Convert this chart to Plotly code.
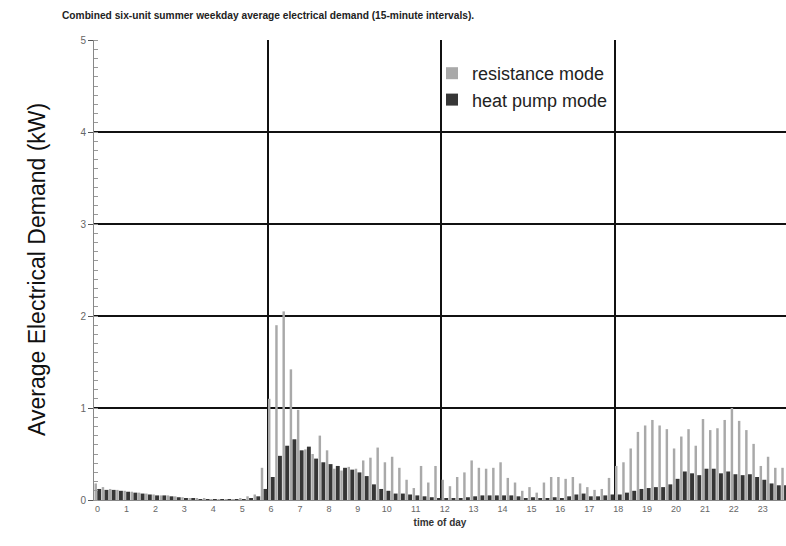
import plotly.graph_objects as go

# 15-minute interval start times (hours) - 96 intervals
interval_hours = [i / 4 for i in range(96)]
hour_ticks = list(range(24))
hour_labels = [str(h) for h in hour_ticks]

resistance_mode = [
    0.18, 0.14, 0.12, 0.11, 0.10, 0.09, 0.08, 0.07,
    0.06, 0.05, 0.05, 0.04, 0.03, 0.02, 0.02, 0.02,
    0.01, 0.01, 0.01, 0.01, 0.02, 0.04, 0.06, 0.35,
    1.10, 1.90, 2.05, 1.42, 0.98, 0.55, 0.50, 0.70,
    0.54, 0.34, 0.32, 0.36, 0.34, 0.43, 0.46, 0.57,
    0.41, 0.47, 0.35, 0.22, 0.13, 0.37, 0.19, 0.37,
    0.22, 0.15, 0.25, 0.30, 0.43, 0.35, 0.34, 0.35,
    0.41, 0.24, 0.19, 0.10, 0.14, 0.08, 0.19, 0.25,
    0.25, 0.23, 0.25, 0.18, 0.14, 0.11, 0.12, 0.24,
    0.37, 0.41, 0.56, 0.74, 0.81, 0.87, 0.81, 0.77,
    0.56, 0.69, 0.77, 0.59, 0.88, 0.76, 0.78, 0.87,
    1.00, 0.86, 0.76, 0.61, 0.37, 0.47, 0.35, 0.35,
]

heat_pump_mode = [
    0.12, 0.11, 0.11, 0.10, 0.09, 0.08, 0.07, 0.06,
    0.05, 0.05, 0.04, 0.03, 0.02, 0.02, 0.01, 0.01,
    0.01, 0.01, 0.01, 0.01, 0.01, 0.02, 0.04, 0.12,
    0.25, 0.48, 0.59, 0.66, 0.54, 0.58, 0.45, 0.41,
    0.39, 0.37, 0.35, 0.33, 0.30, 0.26, 0.17, 0.12,
    0.10, 0.07, 0.07, 0.06, 0.05, 0.04, 0.03, 0.02,
    0.02, 0.02, 0.02, 0.03, 0.04, 0.05, 0.05, 0.05,
    0.05, 0.05, 0.04, 0.02, 0.03, 0.02, 0.02, 0.03,
    0.02, 0.04, 0.06, 0.07, 0.04, 0.04, 0.05, 0.06,
    0.06, 0.08, 0.10, 0.12, 0.13, 0.14, 0.14, 0.17,
    0.23, 0.31, 0.29, 0.27, 0.34, 0.34, 0.29, 0.31,
    0.28, 0.27, 0.28, 0.25, 0.22, 0.18, 0.16, 0.16,
]

x_centers = [h + 0.125 for h in interval_hours]
x_range = [0, 23.93]

fig = go.Figure()
fig.add_trace(go.Bar(
    x=x_centers, y=resistance_mode, name="resistance mode",
    width=0.085, offset=-0.108,
    marker=dict(color="#a9a9a9", line=dict(width=0)),
))
fig.add_trace(go.Bar(
    x=x_centers, y=heat_pump_mode, name="heat pump mode",
    width=0.135, offset=-0.012,
    marker=dict(color="#363636", line=dict(width=0)),
))
# invisible trace on overlay axis to carry hour gridlines
fig.add_trace(go.Scatter(x=[0, 24], y=[0, 0], xaxis="x2", mode="lines",
                         line=dict(width=0), showlegend=False, hoverinfo="skip"))

fig.update_layout(
    width=786, height=546,
    margin=dict(l=94, r=0, t=40, b=46),
    paper_bgcolor="white", plot_bgcolor="white",
    barmode="overlay",
    font=dict(family="Liberation Sans, Arial, sans-serif", color="#222"),
    title=dict(
        text="<b>Combined six-unit summer weekday average electrical demand (15-minute intervals).</b>",
        x=62 / 786, xanchor="left", y=1 - 15 / 546, yanchor="middle",
        font=dict(family="Liberation Sans, Arial, sans-serif", size=10.2, color="#222"),
    ),
    xaxis=dict(
        range=x_range, tickmode="array",
        tickvals=[h + 0.125 for h in hour_ticks], ticktext=hour_labels,
        showgrid=False, zeroline=False,
        showline=True, linecolor="#888", linewidth=1,
        ticks="", tickfont=dict(size=9, color="#666"),
        title=dict(text="<b>time of day</b>", font=dict(size=10, color="#333"), standoff=6),
    ),
    xaxis2=dict(
        range=x_range, overlaying="x", tickmode="array", tickvals=[6, 12, 18],
        showgrid=True, gridcolor="#111", gridwidth=2,
        showticklabels=False, ticks="", zeroline=False, showline=False,
    ),
    yaxis=dict(
        range=[0, 5], dtick=1, showgrid=True, gridcolor="#111", gridwidth=2,
        zeroline=False, showline=True, linecolor="#888", linewidth=1,
        ticks="outside", ticklen=5, tickcolor="#555",
        tickfont=dict(size=10, color="#666"),
        minor=dict(dtick=0.1, ticks="inside", ticklen=4, tickcolor="#999", showgrid=False),
    ),
    legend=dict(
        x=(432 - 94) / 692, y=1 - (55 - 40) / 460, xanchor="left", yanchor="top",
        bgcolor="rgba(0,0,0,0)", borderwidth=0,
        font=dict(size=18, color="#222"), tracegroupgap=2,
    ),
    annotations=[dict(
        text="Average Electrical Demand (kW)", textangle=-90,
        xref="paper", yref="paper", x=(37 - 94) / 692, y=0.5,
        xanchor="center", yanchor="middle", showarrow=False,
        font=dict(size=23, color="#111"),
    )],
)

fig.write_html("out.html")
